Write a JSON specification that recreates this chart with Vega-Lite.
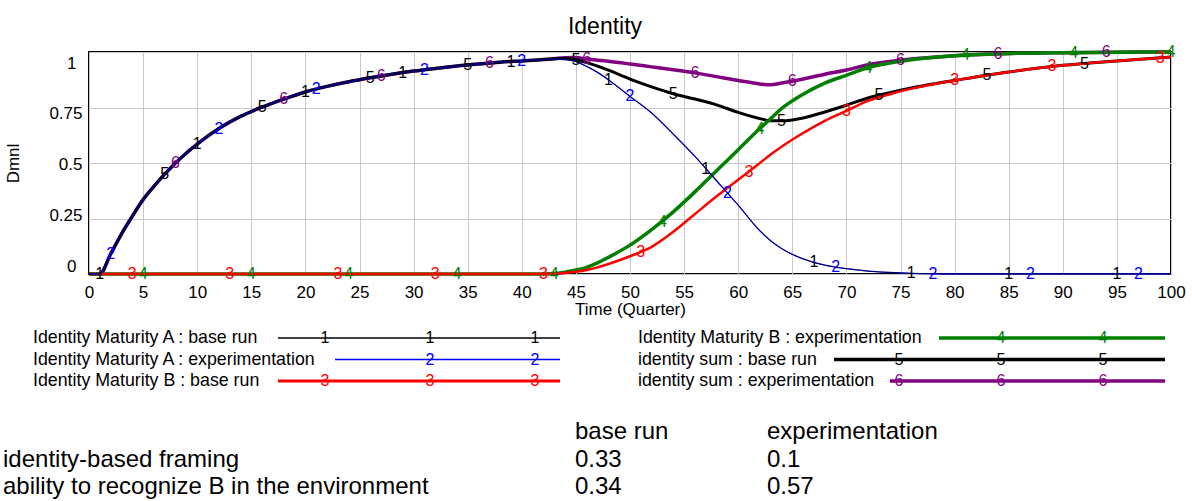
{
  "$schema": "https://vega.github.io/schema/vega-lite/v6.json",
  "background": "white",
  "padding": {"left": 3, "top": 15, "right": 5, "bottom": 0},
  "bounds": "flush",
  "spacing": 0,
  "config": {
    "font": "Liberation Sans",
    "view": {"stroke": null},
    "axis": {"labelFont": "Liberation Sans", "titleFont": "Liberation Sans", "labelColor": "black", "titleColor": "black", "titleFontWeight": "normal"},
    "title": {"font": "Liberation Sans", "fontWeight": "normal", "color": "black"}
  },
  "datasets": {
    "curves": [
      {"t":0,"1":0,"2":0,"3":0,"4":0,"5":0,"6":0},
      {"t":1,"1":0,"2":0,"3":0,"4":0,"5":0,"6":0},
      {"t":2,"1":0.09,"2":0.09,"3":0,"4":0,"5":0.09,"6":0.09},
      {"t":3,"1":0.18,"2":0.18,"3":0,"4":0,"5":0.18,"6":0.18},
      {"t":4,"1":0.26,"2":0.26,"3":0,"4":0,"5":0.26,"6":0.26},
      {"t":5,"1":0.335,"2":0.335,"3":0,"4":0,"5":0.335,"6":0.335},
      {"t":6,"1":0.395,"2":0.395,"3":0,"4":0,"5":0.395,"6":0.395},
      {"t":7,"1":0.45,"2":0.45,"3":0,"4":0,"5":0.45,"6":0.45},
      {"t":8,"1":0.5,"2":0.5,"3":0,"4":0,"5":0.5,"6":0.5},
      {"t":9,"1":0.545,"2":0.545,"3":0,"4":0,"5":0.545,"6":0.545},
      {"t":10,"1":0.585,"2":0.585,"3":0,"4":0,"5":0.585,"6":0.585},
      {"t":12,"1":0.655,"2":0.655,"3":0,"4":0,"5":0.655,"6":0.655},
      {"t":14,"1":0.71,"2":0.71,"3":0,"4":0,"5":0.71,"6":0.71},
      {"t":16,"1":0.752,"2":0.752,"3":0,"4":0,"5":0.752,"6":0.752},
      {"t":18,"1":0.788,"2":0.788,"3":0,"4":0,"5":0.788,"6":0.788},
      {"t":20,"1":0.82,"2":0.82,"3":0,"4":0,"5":0.82,"6":0.82},
      {"t":22,"1":0.845,"2":0.845,"3":0,"4":0,"5":0.845,"6":0.845},
      {"t":24,"1":0.866,"2":0.866,"3":0,"4":0,"5":0.866,"6":0.866},
      {"t":26,"1":0.884,"2":0.884,"3":0,"4":0,"5":0.884,"6":0.884},
      {"t":28,"1":0.9,"2":0.9,"3":0,"4":0,"5":0.9,"6":0.9},
      {"t":30,"1":0.914,"2":0.914,"3":0,"4":0,"5":0.914,"6":0.914},
      {"t":32,"1":0.926,"2":0.926,"3":0,"4":0,"5":0.926,"6":0.926},
      {"t":34,"1":0.937,"2":0.937,"3":0,"4":0,"5":0.937,"6":0.937},
      {"t":36,"1":0.946,"2":0.946,"3":0,"4":0,"5":0.946,"6":0.946},
      {"t":38,"1":0.954,"2":0.954,"3":0,"4":0,"5":0.954,"6":0.954},
      {"t":40,"1":0.96,"2":0.96,"3":0,"4":0,"5":0.96,"6":0.96},
      {"t":42,"1":0.966,"2":0.966,"3":0,"4":0,"5":0.966,"6":0.966},
      {"t":43,"1":0.968,"2":0.968,"3":0.002,"4":0.002,"5":0.97,"6":0.97},
      {"t":44,"1":0.966,"2":0.966,"3":0.005,"4":0.008,"5":0.971,"6":0.974},
      {"t":45,"1":0.957,"2":0.957,"3":0.01,"4":0.018,"5":0.965,"6":0.975},
      {"t":46,"1":0.935,"2":0.935,"3":0.018,"4":0.03,"5":0.952,"6":0.968},
      {"t":47,"1":0.908,"2":0.908,"3":0.03,"4":0.05,"5":0.936,"6":0.963},
      {"t":48,"1":0.875,"2":0.875,"3":0.045,"4":0.075,"5":0.918,"6":0.958},
      {"t":50,"1":0.8,"2":0.8,"3":0.08,"4":0.13,"5":0.878,"6":0.946},
      {"t":52,"1":0.725,"2":0.725,"3":0.122,"4":0.2,"5":0.843,"6":0.933},
      {"t":54,"1":0.63,"2":0.63,"3":0.19,"4":0.28,"5":0.812,"6":0.92},
      {"t":56,"1":0.53,"2":0.53,"3":0.27,"4":0.37,"5":0.788,"6":0.906},
      {"t":58,"1":0.42,"2":0.42,"3":0.35,"4":0.465,"5":0.762,"6":0.889},
      {"t":60,"1":0.31,"2":0.31,"3":0.425,"4":0.56,"5":0.728,"6":0.872},
      {"t":62,"1":0.195,"2":0.195,"3":0.5,"4":0.655,"5":0.7,"6":0.856},
      {"t":63,"1":0.15,"2":0.15,"3":0.538,"4":0.7,"5":0.69,"6":0.852},
      {"t":64,"1":0.115,"2":0.115,"3":0.573,"4":0.745,"5":0.69,"6":0.86},
      {"t":66,"1":0.068,"2":0.068,"3":0.635,"4":0.81,"5":0.703,"6":0.878},
      {"t":68,"1":0.04,"2":0.04,"3":0.69,"4":0.86,"5":0.73,"6":0.9},
      {"t":70,"1":0.024,"2":0.024,"3":0.735,"4":0.895,"5":0.76,"6":0.919},
      {"t":72,"1":0.013,"2":0.013,"3":0.78,"4":0.93,"5":0.793,"6":0.943},
      {"t":74,"1":0.007,"2":0.007,"3":0.81,"4":0.95,"5":0.817,"6":0.957},
      {"t":76,"1":0.003,"2":0.003,"3":0.835,"4":0.965,"5":0.838,"6":0.968},
      {"t":78,"1":0.001,"2":0.001,"3":0.855,"4":0.975,"5":0.856,"6":0.976},
      {"t":80,"1":0,"2":0,"3":0.872,"4":0.983,"5":0.872,"6":0.983},
      {"t":85,"1":0,"2":0,"3":0.91,"4":0.993,"5":0.91,"6":0.993},
      {"t":90,"1":0,"2":0,"3":0.94,"4":0.997,"5":0.94,"6":0.997},
      {"t":95,"1":0,"2":0,"3":0.96,"4":0.999,"5":0.96,"6":0.999},
      {"t":100,"1":0,"2":0,"3":0.977,"4":1,"5":0.977,"6":1}
    ],
    "markers": [
      {"s":"1","t":1,"v":0},{"s":"1","t":10,"v":0.585},{"s":"1","t":20,"v":0.82},{"s":"1","t":29,"v":0.907},{"s":"1","t":39,"v":0.957},{"s":"1","t":48,"v":0.875},{"s":"1","t":57,"v":0.475},{"s":"1","t":67,"v":0.053},{"s":"1","t":76,"v":0.003},{"s":"1","t":85,"v":0},{"s":"1","t":95,"v":0},
      {"s":"2","t":2,"v":0.09},{"s":"2","t":12,"v":0.655},{"s":"2","t":21,"v":0.833},{"s":"2","t":31,"v":0.92},{"s":"2","t":40,"v":0.96},{"s":"2","t":50,"v":0.8},{"s":"2","t":59,"v":0.366},{"s":"2","t":69,"v":0.03},{"s":"2","t":78,"v":0.001},{"s":"2","t":87,"v":0},{"s":"2","t":97,"v":0},
      {"s":"3","t":4,"v":0},{"s":"3","t":13,"v":0},{"s":"3","t":23,"v":0},{"s":"3","t":32,"v":0},{"s":"3","t":42,"v":0},{"s":"3","t":51,"v":0.1},{"s":"3","t":61,"v":0.46},{"s":"3","t":70,"v":0.735},{"s":"3","t":80,"v":0.872},{"s":"3","t":89,"v":0.935},{"s":"3","t":99,"v":0.975},
      {"s":"4","t":5,"v":0},{"s":"4","t":15,"v":0},{"s":"4","t":24,"v":0},{"s":"4","t":34,"v":0},{"s":"4","t":43,"v":0.002},{"s":"4","t":53,"v":0.235},{"s":"4","t":62,"v":0.655},{"s":"4","t":72,"v":0.93},{"s":"4","t":81,"v":0.985},{"s":"4","t":91,"v":0.997},{"s":"4","t":100,"v":1},
      {"s":"5","t":7,"v":0.45},{"s":"5","t":16,"v":0.752},{"s":"5","t":26,"v":0.884},{"s":"5","t":35,"v":0.942},{"s":"5","t":45,"v":0.965},{"s":"5","t":54,"v":0.812},{"s":"5","t":64,"v":0.69},{"s":"5","t":73,"v":0.805},{"s":"5","t":83,"v":0.895},{"s":"5","t":92,"v":0.948},
      {"s":"6","t":8,"v":0.5},{"s":"6","t":18,"v":0.788},{"s":"6","t":27,"v":0.892},{"s":"6","t":37,"v":0.95},{"s":"6","t":46,"v":0.968},{"s":"6","t":56,"v":0.906},{"s":"6","t":65,"v":0.868},{"s":"6","t":75,"v":0.963},{"s":"6","t":84,"v":0.99},{"s":"6","t":94,"v":0.998}
    ],
    "legend": [
      {"s":"1","label":"Identity Maturity A : base run","c":0,"row":1},
      {"s":"2","label":"Identity Maturity A : experimentation","c":0,"row":2},
      {"s":"3","label":"Identity Maturity B : base run","c":0,"row":3},
      {"s":"4","label":"Identity Maturity B : experimentation","c":1,"row":1},
      {"s":"5","label":"identity sum : base run","c":1,"row":2},
      {"s":"6","label":"identity sum : experimentation","c":1,"row":3}
    ],
    "legendMarks": [
      {"s":"1","c":0,"row":1,"k":1},{"s":"1","c":0,"row":1,"k":2},{"s":"1","c":0,"row":1,"k":3},
      {"s":"2","c":0,"row":2,"k":2},{"s":"2","c":0,"row":2,"k":3},
      {"s":"3","c":0,"row":3,"k":1},{"s":"3","c":0,"row":3,"k":2},{"s":"3","c":0,"row":3,"k":3},
      {"s":"4","c":1,"row":1,"k":2},{"s":"4","c":1,"row":1,"k":3},
      {"s":"5","c":1,"row":2,"k":1},{"s":"5","c":1,"row":2,"k":2},{"s":"5","c":1,"row":2,"k":3},
      {"s":"6","c":1,"row":3,"k":1},{"s":"6","c":1,"row":3,"k":2},{"s":"6","c":1,"row":3,"k":3}
    ],
    "table": [
      {"r":0,"c":1,"text":"base run"},{"r":0,"c":2,"text":"experimentation"},
      {"r":1,"c":0,"text":"identity-based framing"},{"r":1,"c":1,"text":"0.33"},{"r":1,"c":2,"text":"0.1"},
      {"r":2,"c":0,"text":"ability to recognize B in the environment"},{"r":2,"c":1,"text":"0.34"},{"r":2,"c":2,"text":"0.57"}
    ]
  },
  "vconcat": [
    {
      "width": 1082,
      "height": 222,
      "title": {"text": "Identity", "fontSize": 23, "anchor": "middle", "frame": "group", "dx": -25, "offset": 5},
      "view": {"stroke": "black", "strokeWidth": 2},
      "layer": [
        {
          "data": {"name": "curves"},
          "transform": [{"fold": ["6"], "as": ["s", "v"]}],
          "mark": {"type": "line", "interpolate": "monotone", "strokeWidth": 3.5},
          "encoding": {
            "x": {"field": "t", "type": "quantitative", "scale": {"domain": [0, 100], "nice": false},
              "axis": {"values": [0,5,10,15,20,25,30,35,40,45,50,55,60,65,70,75,80,85,90,95,100], "title": "Time (Quarter)", "titleFontSize": 17, "labelFontSize": 17, "labelFlush": false, "labelOverlap": false, "grid": true, "gridColor": "#c8c8c8", "domain": false, "ticks": false, "labelPadding": 10, "titlePadding": 1}},
            "y": {"field": "v", "type": "quantitative", "scale": {"domain": [0, 1], "nice": false},
              "axis": {"values": [0, 0.25, 0.5, 0.75, 1], "format": ".2~f", "title": "Dmnl", "titleFontSize": 17, "labelFontSize": 17, "labelFlush": false, "labelOverlap": false, "grid": true, "gridColor": "#c8c8c8", "domain": false, "ticks": false, "labelPadding": {"expr": "datum.value == 0 || datum.value == 1 ? 13 : 7"}, "titlePadding": 26, "labelOffset": {"expr": "-8 + 19*datum.value"}}},
            "color": {"field": "s", "type": "nominal", "scale": {"domain": ["1","2","3","4","5","6"], "range": ["#000000", "#0000ff", "#ff0000", "#008000", "#000000", "#800080"]}, "legend": null}
          }
        },
        {
          "data": {"name": "curves"},
          "transform": [{"fold": ["5"], "as": ["s", "v"]}],
          "mark": {"type": "line", "interpolate": "monotone", "strokeWidth": 3},
          "encoding": {
            "x": {"field": "t", "type": "quantitative"},
            "y": {"field": "v", "type": "quantitative"},
            "color": {"field": "s", "type": "nominal", "legend": null}
          }
        },
        {
          "data": {"name": "curves"},
          "transform": [{"fold": ["4"], "as": ["s", "v"]}],
          "mark": {"type": "line", "interpolate": "monotone", "strokeWidth": 3.5},
          "encoding": {
            "x": {"field": "t", "type": "quantitative"},
            "y": {"field": "v", "type": "quantitative"},
            "color": {"field": "s", "type": "nominal", "legend": null}
          }
        },
        {
          "data": {"name": "curves"},
          "transform": [{"fold": ["3"], "as": ["s", "v"]}],
          "mark": {"type": "line", "interpolate": "monotone", "strokeWidth": 2.5},
          "encoding": {
            "x": {"field": "t", "type": "quantitative"},
            "y": {"field": "v", "type": "quantitative"},
            "color": {"field": "s", "type": "nominal", "legend": null}
          }
        },
        {
          "data": {"name": "curves"},
          "transform": [{"fold": ["2"], "as": ["s", "v"]}],
          "mark": {"type": "line", "interpolate": "monotone", "strokeWidth": 1.3},
          "encoding": {
            "x": {"field": "t", "type": "quantitative"},
            "y": {"field": "v", "type": "quantitative"},
            "color": {"field": "s", "type": "nominal", "legend": null}
          }
        },
        {
          "data": {"name": "curves"},
          "transform": [{"fold": ["1"], "as": ["s", "v"]}],
          "mark": {"type": "line", "interpolate": "monotone", "strokeWidth": 0.8, "opacity": 0.8},
          "encoding": {
            "x": {"field": "t", "type": "quantitative"},
            "y": {"field": "v", "type": "quantitative"},
            "color": {"field": "s", "type": "nominal", "legend": null}
          }
        },
        {
          "data": {"name": "markers"},
          "mark": {"type": "text", "fontSize": 16, "baseline": "middle", "align": "center"},
          "encoding": {
            "x": {"field": "t", "type": "quantitative"},
            "y": {"field": "v", "type": "quantitative"},
            "text": {"field": "s"},
            "color": {"field": "s", "type": "nominal", "legend": null}
          }
        }
      ]
    },
    {
      "width": 1082,
      "height": 226,
      "resolve": {"scale": {"x": "independent", "y": "independent"}},
      "layer": [
        {
          "data": {"name": "legend"},
          "transform": [{"filter": "datum.c == 0 && datum.row <= 2"}],
          "mark": {"type": "rule", "strokeWidth": 1.3},
          "encoding": {
            "x": {"field": "row", "type": "quantitative", "scale": {"domain": [1, 2, 3, 4], "range": [189, 246, 189, 471], "nice": false, "zero": false}, "axis": null},
            "x2": {"datum": 4},
            "y": {"field": "row", "type": "quantitative", "scale": {"domain": [1, 3], "range": [64, 107], "nice": false, "zero": false}, "axis": null},
            "color": {"field": "s", "type": "nominal", "scale": {"domain": ["1","2","3","4","5","6"], "range": ["#555555", "#0000ff", "#ff0000", "#008000", "#000000", "#800080"]}, "legend": null}
          }
        },
        {
          "data": {"name": "legend"},
          "transform": [{"filter": "datum.c == 0 && datum.row == 3"}],
          "mark": {"type": "rule", "strokeWidth": 3},
          "encoding": {
            "x": {"field": "row", "type": "quantitative", "scale": {"domain": [1, 2, 3, 4], "range": [189, 246, 189, 471], "nice": false, "zero": false}, "axis": null},
            "x2": {"datum": 4},
            "y": {"field": "row", "type": "quantitative", "scale": {"domain": [1, 3], "range": [64, 107], "nice": false, "zero": false}, "axis": null},
            "color": {"field": "s", "type": "nominal", "legend": null}
          }
        },
        {
          "data": {"name": "legend"},
          "transform": [{"filter": "datum.c == 1"}],
          "mark": {"type": "rule", "strokeWidth": 3.5},
          "encoding": {
            "x": {"field": "row", "type": "quantitative", "scale": {"domain": [1, 2, 3, 4], "range": [850, 745, 801, 1076], "nice": false, "zero": false}, "axis": null},
            "x2": {"datum": 4},
            "y": {"field": "row", "type": "quantitative", "scale": {"domain": [1, 3], "range": [64, 107], "nice": false, "zero": false}, "axis": null},
            "color": {"field": "s", "type": "nominal", "legend": null}
          }
        },
        {
          "data": {"name": "legend"},
          "mark": {"type": "text", "fontSize": 17.8, "align": "left", "baseline": "middle", "color": "black"},
          "encoding": {
            "x": {"field": "c", "type": "quantitative", "scale": {"domain": [0, 1], "range": [-56, 549], "nice": false, "zero": false}, "axis": null},
            "y": {"field": "row", "type": "quantitative", "scale": {"domain": [1, 3], "range": [64, 107], "nice": false, "zero": false}, "axis": null},
            "text": {"field": "label"}
          }
        },
        {
          "data": {"name": "legendMarks"},
          "transform": [{"filter": "datum.c == 0"}],
          "mark": {"type": "text", "fontSize": 16, "align": "center", "baseline": "middle"},
          "encoding": {
            "x": {"field": "k", "type": "quantitative", "scale": {"domain": [1, 3], "range": [236, 446], "nice": false, "zero": false}, "axis": null},
            "y": {"field": "row", "type": "quantitative", "scale": {"domain": [1, 3], "range": [64, 107], "nice": false, "zero": false}, "axis": null},
            "text": {"field": "s"},
            "color": {"field": "s", "type": "nominal", "legend": null}
          }
        },
        {
          "data": {"name": "legendMarks"},
          "transform": [{"filter": "datum.c == 1"}],
          "mark": {"type": "text", "fontSize": 16, "align": "center", "baseline": "middle"},
          "encoding": {
            "x": {"field": "k", "type": "quantitative", "scale": {"domain": [1, 3], "range": [810, 1014], "nice": false, "zero": false}, "axis": null},
            "y": {"field": "row", "type": "quantitative", "scale": {"domain": [1, 3], "range": [64, 107], "nice": false, "zero": false}, "axis": null},
            "text": {"field": "s"},
            "color": {"field": "s", "type": "nominal", "legend": null}
          }
        },
        {
          "data": {"name": "table"},
          "mark": {"type": "text", "fontSize": 24, "align": "left", "baseline": "middle", "color": "black"},
          "encoding": {
            "x": {"field": "c", "type": "quantitative", "scale": {"domain": [0, 1, 2], "range": [-86, 486, 678], "nice": false, "zero": false}, "axis": null},
            "y": {"field": "r", "type": "quantitative", "scale": {"domain": [0, 2], "range": [158, 213], "nice": false, "zero": false}, "axis": null},
            "text": {"field": "text"}
          }
        }
      ]
    }
  ]
}
